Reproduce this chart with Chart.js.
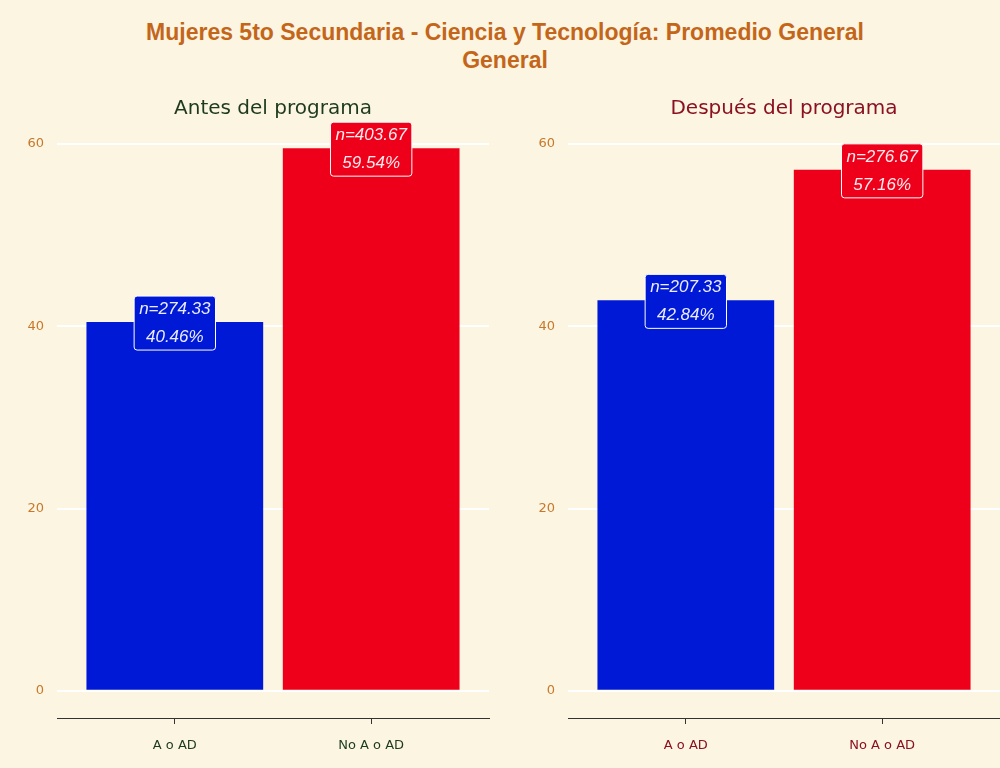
<!DOCTYPE html>
<html>
<head>
<meta charset="utf-8">
<script src="https://cdn.jsdelivr.net/npm/chart.js@4.4.1/dist/chart.umd.min.js"></script>
<style>
  html, body { margin: 0; padding: 0; background: #fcf5e2; }
  #wrap { position: relative; width: 1000px; height: 768px; background: #fcf5e2; overflow: hidden; }
  #titulo {
    position: absolute; left: 0; top: 18px; width: 1010px; text-align: center;
    font-family: "Liberation Sans Narrow", "Liberation Sans", Arial, sans-serif;
    font-weight: bold; font-size: 23px; line-height: 28px; color: #c4661a;
  }
  .panel { position: absolute; top: 0; width: 500px; height: 768px; }
</style>
</head>
<body>
<div id="wrap">
  <div id="titulo">Mujeres 5to Secundaria - Ciencia y Tecnología: Promedio General<br>General</div>
  <div class="panel" style="left:0"><canvas id="antes"></canvas></div>
  <div class="panel" style="left:500px"><canvas id="despues"></canvas></div>
</div>
<script>
var categorias = ['A o AD', 'No A o AD'];
var pctAntes = [40.46, 59.54];
var nAntes = [274.33, 403.67];
var pctDespues = [42.84, 57.16];
var nDespues = [207.33, 276.67];
var yTicks = [0, 20, 40, 60];
var colores = ['#0019d6', '#ee001a'];

// etiquetas tipo caja sobre cada barra
var etiquetas = {
    id: 'etiquetas',
    afterDatasetsDraw: function (chart) {
        var ctx = chart.ctx;
        var meta = chart.getDatasetMeta(0);
        var ns = chart.options.plugins.etiquetas.n;
        var ds = chart.data.datasets[0];
        ctx.save();
        ctx.font = 'italic 17px "Liberation Sans", Arial, sans-serif';
        ctx.textAlign = 'center';
        ctx.textBaseline = 'middle';
        meta.data.forEach(function (bar, i) {
            var l1 = 'n=' + ns[i].toFixed(2);
            var l2 = ds.data[i].y.toFixed(2) + '%';
            var w = Math.max(ctx.measureText(l1).width, ctx.measureText(l2).width) + 10;
            var h = 54;
            var x = bar.x - w / 2, y = bar.y - h / 2 + 1;
            ctx.beginPath();
            ctx.roundRect(x, y, w, h, 3);
            ctx.fillStyle = colores[i];
            ctx.fill();
            ctx.lineWidth = 1;
            ctx.strokeStyle = '#ffffff';
            ctx.stroke();
            ctx.fillStyle = 'rgba(255,255,255,0.92)';
            ctx.fillText(l1, bar.x, y + 13);
            ctx.fillText(l2, bar.x, y + 41);
        });
        ctx.restore();
    }
};

function crearGrafico(id, subtitulo, colorTexto, pct, ns, yWidth, padRight) {
    var ctx = document.getElementById(id).getContext('2d');
    return new Chart(ctx, {
        type: 'bar',
        data: {
            datasets: [{
                data: pct.map(function (v, i) { return { x: i + 1, y: v }; }),
                backgroundColor: colores,
                borderWidth: 0,
                categoryPercentage: 1,
                barPercentage: 0.9
            }]
        },
        options: {
            responsive: false,
            animation: false,
            layout: { padding: { top: 93, right: padRight, bottom: 0, left: 0 } },
            plugins: {
                legend: { display: false },
                tooltip: { enabled: false },
                title: {
                    display: true,
                    text: subtitulo,
                    fullSize: false,
                    color: colorTexto,
                    font: { family: '"DejaVu Sans", sans-serif', size: 20, weight: 'normal', lineHeight: 1.2 },
                    padding: { top: 4, bottom: 0 }
                },
                etiquetas: { n: ns }
            },
            scales: {
                x: {
                    type: 'linear',
                    min: 0.4,
                    max: 2.6,
                    offset: false,
                    afterBuildTicks: function (scale) {
                        scale.ticks = categorias.map(function (c, i) { return { value: i + 1 }; });
                    },
                    afterFit: function (scale) { scale.height = 50; },
                    ticks: {
                        callback: function (v) { return categorias[v - 1]; },
                        color: colorTexto,
                        font: { family: '"DejaVu Sans", sans-serif', size: 13 },
                        padding: 14,
                        maxRotation: 0
                    },
                    grid: { offset: false, drawOnChartArea: false, drawTicks: true, tickLength: 6, color: '#333333', lineWidth: 1 },
                    border: { display: true, color: '#333333', width: 1 }
                },
                y: {
                    min: -2.98,
                    max: 62.52,
                    afterBuildTicks: function (scale) {
                        scale.ticks = yTicks.map(function (v) { return { value: v }; });
                    },
                    afterFit: function (scale) { scale.width = yWidth; },
                    ticks: {
                        color: '#c8782a',
                        font: { family: '"DejaVu Sans", sans-serif', size: 13 },
                        padding: 13
                    },
                    grid: { drawTicks: false, color: '#ffffff', lineWidth: 2 },
                    border: { display: false }
                }
            }
        },
        plugins: [etiquetas]
    });
}

function tamano(id) {
    var c = document.getElementById(id);
    c.width = 500; c.height = 768;
    c.style.width = '500px'; c.style.height = '768px';
}
tamano('antes');
tamano('despues');

crearGrafico('antes', 'Antes del programa', '#1e3a1e', pctAntes, nAntes, 57, 11);
crearGrafico('despues', 'Después del programa', '#8b1020', pctDespues, nDespues, 68, 0);
</script>
</body>
</html>
